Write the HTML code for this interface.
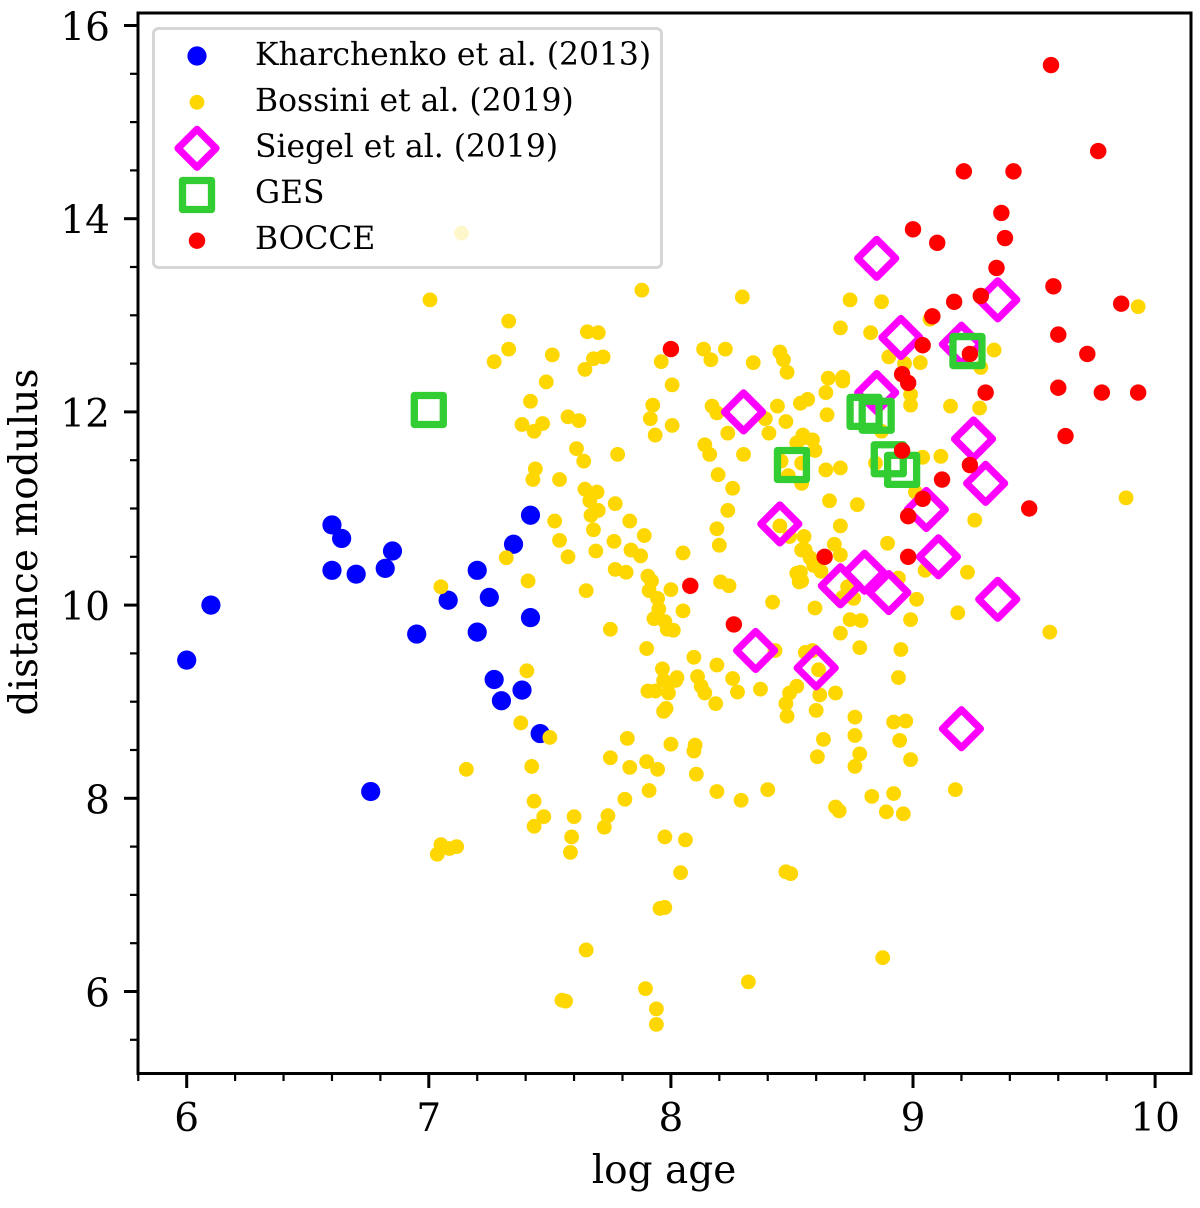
<!DOCTYPE html>
<html lang="en">
<head>
<meta charset="utf-8">
<title>Distance modulus versus log age</title>
<style>
html,body{margin:0;padding:0;background:#fff;}
svg{display:block;font-family:"DejaVu Serif","Liberation Serif",serif;fill:#000;}
</style>
</head>
<body>
<svg id="chart" xmlns="http://www.w3.org/2000/svg" width="1200" height="1208" viewBox="0 0 1200 1208">
  <rect x="138" y="13" width="1053" height="1060" fill="#fff"/>
  <g id="marks"></g>
  <g id="ticks"></g>
  <rect x="138" y="13" width="1053" height="1060.5" fill="none" stroke="#000" stroke-width="3"/>
  <text x="664" y="1183" font-size="39" text-anchor="middle">log age</text>
  <text x="0" y="0" font-size="39" text-anchor="middle" transform="translate(37,542) rotate(-90)">distance modulus</text>
  <g>
    <rect x="153.5" y="28.5" width="508" height="239" rx="5" ry="5" fill="#fff" fill-opacity="0.8" stroke="#d6d6d6" stroke-width="3"/>
    <circle cx="197" cy="56" r="9.6" fill="#0000ff"/>
    <text x="255" y="65" font-size="31.4">Kharchenko et al. (2013)</text>
    <circle cx="197" cy="102.300" r="7.4" fill="#ffd700"/>
    <text x="255" y="111" font-size="31.4">Bossini et al. (2019)</text>
    <path d="M197 129.300L216 148.300L197 167.300L178 148.300Z" fill="none" stroke="#ff00ff" stroke-width="7.2" stroke-linejoin="round"/>
    <rect x="182.500" y="180.500" width="29" height="29" fill="none" stroke="#32cd32" stroke-width="7.3" stroke-linejoin="round"/>
    <text x="255" y="157" font-size="31.4">Siegel et al. (2019)</text>
    <text x="255" y="203" font-size="31.4">GES</text>
    <circle cx="197" cy="240.700" r="8.2" fill="#ff0000"/>
    <text x="255" y="249" font-size="31.4">BOCCE</text>
  </g>
</svg>
<script>
const xMajorTicks = [6, 7, 8, 9, 10];
const yMajorTicks = [6, 8, 10, 12, 14, 16];
const xMinorTicks = [5.8, 6.2, 6.4, 6.6, 6.8, 7.2, 7.4, 7.6, 7.8, 8.2, 8.4, 8.6, 8.8, 9.2, 9.4, 9.6, 9.8];
const yMinorTicks = [5.5, 6.5, 7, 7.5, 8.5, 9, 9.5, 10.5, 11, 11.5, 12.5, 13, 13.5, 14.5, 15, 15.5];

const kharchenko = [[6.0,9.43],[6.10,10.0],[6.60,10.83],[6.64,10.69],[6.60,10.36],[6.70,10.32],[6.82,10.38],[6.85,10.56],[6.95,9.70],[7.08,10.05],[7.20,10.36],[7.20,9.72],[7.25,10.08],[7.27,9.23],[7.30,9.01],[7.385,9.12],[7.35,10.63],[7.42,10.93],[7.42,9.87],[7.46,8.67],[6.76,8.07]];

const bossini = [[7.135,13.85],[7.005,13.16],[7.88,13.26],[8.295,13.19],[7.33,12.94],[7.655,12.83],[7.70,12.82],[7.33,12.65],[7.27,12.52],[7.51,12.59],[7.72,12.57],[7.68,12.55],[7.645,12.44],[7.485,12.31],[7.42,12.11],[7.385,11.87],[7.47,11.88],[7.435,11.80],[7.575,11.95],[7.62,11.91],[7.61,11.62],[7.64,11.49],[7.78,11.56],[7.44,11.41],[7.43,11.30],[7.54,11.30],[7.645,11.20],[7.695,11.17],[7.665,11.08],[7.70,10.98],[7.67,10.93],[7.77,11.05],[7.83,10.87],[7.52,10.87],[7.68,10.78],[7.89,10.72],[7.54,10.67],[7.765,10.66],[7.69,10.56],[7.575,10.50],[7.835,10.57],[7.875,10.51],[7.32,10.49],[7.77,10.37],[7.815,10.34],[7.41,10.25],[7.05,10.19],[7.65,10.15],[7.905,10.30],[7.92,10.25],[7.91,10.15],[7.945,10.07],[7.95,9.96],[7.93,9.86],[7.975,9.83],[7.985,9.75],[8.01,9.74],[8.0,10.16],[8.05,9.94],[7.75,9.75],[7.90,9.55],[8.095,9.46],[8.19,9.38],[7.965,9.34],
[8.135,12.65],[8.225,12.65],[8.165,12.54],[7.96,12.52],[8.34,12.51],[8.45,12.62],[8.465,12.54],[8.48,12.41],[8.005,12.28],[7.925,12.07],[7.915,11.93],[8.005,11.86],[7.935,11.76],[8.17,12.06],[8.19,11.99],[8.39,11.93],[8.44,12.06],[8.535,12.09],[8.475,11.90],[8.235,11.78],[8.405,11.78],[8.14,11.66],[8.16,11.56],[8.30,11.56],[8.195,11.35],[8.255,11.21],[8.235,10.98],[8.19,10.79],[8.20,10.62],[8.05,10.54],[8.205,10.24],[8.24,10.20],[8.42,10.03],[8.45,10.82],[8.49,10.71],[8.54,10.57],[8.52,10.33],[8.53,10.24],[8.43,9.53],
[8.74,13.16],[8.87,13.14],[9.93,13.09],[9.07,12.96],[8.70,12.87],[8.825,12.82],[8.90,12.57],[8.965,12.50],[9.03,12.51],[9.335,12.64],[9.28,12.46],[8.65,12.35],[8.71,12.36],[8.71,12.32],[8.64,12.20],[8.565,12.13],[8.645,11.97],[8.99,12.18],[8.99,12.07],[9.155,12.06],[9.275,12.04],[8.87,11.80],[8.545,11.73],[8.585,11.71],[8.52,11.68],[8.595,11.60],[8.545,11.76],[8.455,11.49],[8.54,11.47],[8.485,11.34],[8.54,11.26],[8.64,11.40],[8.70,11.42],[8.845,11.47],[9.04,11.53],[9.115,11.54],[9.01,11.17],[8.655,11.08],[8.77,11.04],[9.255,10.88],[9.88,11.11],[8.70,10.82],[8.55,10.71],[8.675,10.63],[8.70,10.52],[8.895,10.64],[8.555,10.57],[8.575,10.49],[8.59,10.41],[8.62,10.35],[8.535,10.34],[8.54,10.25],[8.595,9.97],[8.74,9.85],[8.785,9.84],[8.70,9.71],[8.73,10.19],[8.71,10.08],[8.755,10.07],[8.94,10.28],[9.05,10.36],[9.225,10.34],[9.015,10.06],[8.99,9.85],[9.185,9.92],[9.565,9.72],
[8.78,9.56],[8.95,9.54],[8.025,9.25],[8.02,9.22],[7.97,9.22],[7.99,9.19],[8.11,9.26],[8.125,9.16],[8.14,9.09],[8.255,9.24],[8.275,9.10],[8.37,9.13],[7.905,9.11],[7.935,9.11],[7.99,9.09],[8.185,8.98],[7.98,8.93],[7.97,8.90],[8.555,9.51],[8.585,9.53],[8.61,9.33],[8.52,9.16],[8.49,9.09],[8.475,8.98],[8.48,8.85],[8.615,9.07],[8.68,9.09],[8.60,8.91],[8.76,8.84],[8.92,8.79],[8.97,8.80],[8.76,8.65],[8.945,8.60],[8.63,8.61],[8.78,8.46],[8.605,8.43],[8.76,8.33],[8.99,8.40],[8.94,9.25],
[7.82,8.62],[8.00,8.56],[8.10,8.55],[8.095,8.49],[7.75,8.42],[7.83,8.32],[7.90,8.38],[7.945,8.30],[8.105,8.25],[7.91,8.08],[7.81,7.99],[8.19,8.07],[8.29,7.98],[8.40,8.09],[7.74,7.82],[7.725,7.70],[7.975,7.60],[8.06,7.57],[8.83,8.02],[8.92,8.05],[8.89,7.86],[8.96,7.84],[8.68,7.91],[8.695,7.87],[9.175,8.09],
[7.405,9.32],[7.38,8.78],[7.50,8.63],[7.155,8.30],[7.425,8.33],[7.435,7.97],[7.475,7.81],[7.435,7.71],[7.60,7.81],[7.59,7.60],[7.585,7.44],[7.05,7.52],[7.085,7.48],[7.115,7.50],[7.035,7.42],[7.955,6.86],[7.975,6.87],[7.65,6.43],[8.04,7.23],[8.475,7.24],[8.495,7.22],[8.32,6.10],[7.895,6.03],[7.94,5.82],[7.94,5.66],[7.55,5.91],[7.565,5.90],[8.875,6.35]];

const siegel = [[8.85,13.59],[8.95,12.77],[9.20,12.70],[9.35,13.16],[8.85,12.20],[8.30,12.0],[9.25,11.72],[9.30,11.26],[9.055,10.99],[8.45,10.84],[9.105,10.50],[9.35,10.06],[8.80,10.34],[8.70,10.20],[8.90,10.13],[8.35,9.53],[8.60,9.35],[9.20,8.72]];

const ges = [[7.00,12.02],[9.225,12.63],[8.80,12.0],[8.85,11.96],[8.90,11.51],[8.955,11.40],[8.50,11.45]];

const bocce = [[9.57,15.59],[9.765,14.70],[9.21,14.49],[9.415,14.49],[9.365,14.06],[9.38,13.80],[9.0,13.89],[9.10,13.75],[9.345,13.49],[9.58,13.30],[9.86,13.12],[9.17,13.14],[9.28,13.20],[9.08,12.99],[9.60,12.80],[9.72,12.60],[9.04,12.69],[9.235,12.60],[8.955,12.39],[8.98,12.30],[9.30,12.20],[9.60,12.25],[9.78,12.20],[9.93,12.20],[9.63,11.75],[8.955,11.60],[9.235,11.45],[9.12,11.30],[9.04,11.10],[9.48,11.0],[8.98,10.92],[8.98,10.50],[8.635,10.50],[8.0,12.65],[8.08,10.20],[8.26,9.80]];

const SVG_NS = 'http://www.w3.org/2000/svg';
const marksLayer = document.getElementById('marks');
const ticksLayer = document.getElementById('ticks');

function xScale(v) { return 186.7 + (v - 6) * 242.1; }
function yScale(v) { return 991.5 - (v - 6) * 96.6; }

function make(tag, attrs, parent) {
  const el = document.createElementNS(SVG_NS, tag);
  for (const k in attrs) el.setAttribute(k, attrs[k]);
  parent.appendChild(el);
  return el;
}

kharchenko.forEach(function (d) {
  const el = make('circle', { cx: xScale(d[0]), cy: yScale(d[1]), r: 9.6, fill: '#0000ff' }, marksLayer);
  
  
});

bossini.forEach(function (d) {
  const el = make('circle', { cx: xScale(d[0]), cy: yScale(d[1]), r: 7.4, fill: '#ffd700' }, marksLayer);
  
  
});

siegel.forEach(function (d) {
  const cx = xScale(d[0]), cy = yScale(d[1]), h = 19;
  const el = make('path', {
    d: 'M' + cx + ' ' + (cy - h) + 'L' + (cx + h) + ' ' + cy + 'L' + cx + ' ' + (cy + h) + 'L' + (cx - h) + ' ' + cy + 'Z',
    fill: 'none', stroke: '#ff00ff', 'stroke-width': 7.2, 'stroke-linejoin': 'round'
  }, marksLayer);
  
  
});

ges.forEach(function (d) {
  const el = make('rect', {
    x: xScale(d[0]) - 14.5, y: yScale(d[1]) - 14.5, width: 29, height: 29,
    fill: 'none', stroke: '#32cd32', 'stroke-width': 7.3, 'stroke-linejoin': 'round'
  }, marksLayer);
  
  
});

bocce.forEach(function (d) {
  const el = make('circle', { cx: xScale(d[0]), cy: yScale(d[1]), r: 8.2, fill: '#ff0000' }, marksLayer);
  
  
});

xMajorTicks.forEach(function (v) {
  const px = xScale(v);
  const tick = make('line', { x1: px, x2: px, y1: 1073, y2: 1088, stroke: '#000', 'stroke-width': 3 }, ticksLayer);
  
  
  const label = make('text', { x: px, y: 1131, 'font-size': 39, 'text-anchor': 'middle' }, ticksLayer);
  label.textContent = String(v);
  
  
});

xMinorTicks.forEach(function (v) {
  const px = xScale(v);
  const tick = make('line', { x1: px, x2: px, y1: 1073, y2: 1081, stroke: '#000', 'stroke-width': 2.2 }, ticksLayer);
  
  
});

yMajorTicks.forEach(function (v) {
  const py = yScale(v);
  const tick = make('line', { x1: 124, x2: 138, y1: py, y2: py, stroke: '#000', 'stroke-width': 3 }, ticksLayer);
  
  
  const label = make('text', { x: 110, y: py + 15, 'font-size': 39, 'text-anchor': 'end' }, ticksLayer);
  label.textContent = String(v);
  
  
});

yMinorTicks.forEach(function (v) {
  const py = yScale(v);
  const tick = make('line', { x1: 130, x2: 138, y1: py, y2: py, stroke: '#000', 'stroke-width': 2.2 }, ticksLayer);
  
  
});
</script>
</body>
</html>
